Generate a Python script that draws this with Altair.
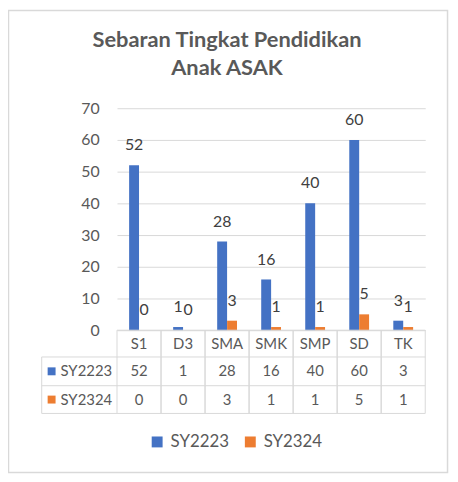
import altair as alt
import pandas as pd

categories = ["S1", "D3", "SMA", "SMK", "SMP", "SD", "TK"]
series_names = ["SY2223", "SY2324"]
sy2223 = [52, 1, 28, 16, 40, 60, 3]
sy2324 = [0, 0, 3, 1, 1, 5, 1]
colors = ["#4472C4", "#ED7D31"]
title_lines = ["Sebaran Tingkat Pendidikan", "Anak ASAK"]
y_ticks = [0, 10, 20, 30, 40, 50, 60, 70]

series_frames = [
    pd.DataFrame({"category": categories, "series": s, "value": vals})
    for s, vals in zip(series_names, [sy2223, sy2324])
]
cat_df = pd.DataFrame({"category": categories})
title_df = pd.DataFrame({"line": title_lines})

FONT = "Lato"
GRAY = "#595959"
LINE = "#D9D9D9"
W, H = 311, 224
STEP = W / len(categories)
TABLE_TOP, ROW1, ROW2, TABLE_BOTTOM = 224, 251, 280, 308
LEFT_COL = -76
BAR_SHIFT = [-5, 5]
TITLE_Y = [-69, -41]
TABLE_FS = 15

x_enc = alt.X("category:N", sort=categories,
              scale=alt.Scale(paddingInner=0, paddingOuter=0), axis=None)
color_enc = alt.Color(
    "series:N",
    scale=alt.Scale(domain=series_names, range=colors),
    legend=alt.Legend(orient="none", legendX=32, legendY=328, direction="horizontal",
                      title=None, symbolType="square", symbolSize=121, symbolStrokeWidth=0,
                      labelFont=FONT, labelFontSize=17, labelColor=GRAY,
                      columnPadding=12, labelOffset=5),
)
y_enc = alt.Y("value:Q", scale=alt.Scale(domain=[0, 70]),
              axis=alt.Axis(values=y_ticks, domain=False, ticks=False, title=None,
                            labelFont=FONT, labelFontSize=16, labelColor=GRAY,
                            labelPadding=18, gridColor=LINE, gridWidth=1,
                            labelOverlap=False, tickCount=8))

layers = []
for i, sdf in enumerate(series_frames):
    layers.append(alt.Chart(sdf).mark_bar(width=alt.RelativeBandSize(0.225),
                                          xOffset=BAR_SHIFT[i]).encode(
        x=x_enc, y=y_enc, color=color_enc))
    layers.append(alt.Chart(sdf).mark_text(font=FONT, fontSize=16, color="#404040", dy=-20,
                                           xOffset=BAR_SHIFT[i], baseline="middle").encode(
        x=x_enc, y=y_enc, text="value:Q"))

# table grid lines: left and right edge of every category cell, then the rest
layers.append(alt.Chart(cat_df).mark_rule(color=LINE, xOffset=-STEP / 2).encode(
    x=x_enc, y=alt.value(TABLE_TOP), y2=alt.value(TABLE_BOTTOM)))
layers.append(alt.Chart(cat_df).mark_rule(color=LINE, xOffset=STEP / 2).encode(
    x=x_enc, y=alt.value(TABLE_TOP), y2=alt.value(TABLE_BOTTOM)))
layers.append(alt.Chart(cat_df.head(1)).mark_rule(color=LINE).encode(
    x=alt.value(LEFT_COL), y=alt.value(ROW1), y2=alt.value(TABLE_BOTTOM)))
for x0, yy in [(0, TABLE_TOP), (LEFT_COL, ROW1), (LEFT_COL, ROW2), (LEFT_COL, TABLE_BOTTOM)]:
    layers.append(alt.Chart(cat_df.head(1)).mark_rule(color=LINE).encode(
        x=alt.value(x0), x2=alt.value(W), y=alt.value(yy)))

# header row
layers.append(alt.Chart(cat_df).mark_text(font=FONT, fontSize=TABLE_FS, color=GRAY).encode(
    x=x_enc, y=alt.value((TABLE_TOP + ROW1) / 2), text="category:N"))

row_mid = [(ROW1 + ROW2) / 2, (ROW2 + TABLE_BOTTOM) / 2]
for i, sdf in enumerate(series_frames):
    layers.append(alt.Chart(sdf).mark_text(font=FONT, fontSize=TABLE_FS, color=GRAY).encode(
        x=x_enc, y=alt.value(row_mid[i]), text="value:Q"))
    lab = sdf.head(1)
    layers.append(alt.Chart(lab).mark_square(size=64, opacity=1, color=colors[i]).encode(
        x=alt.value(-66), y=alt.value(row_mid[i])))
    layers.append(alt.Chart(lab).mark_text(font=FONT, fontSize=TABLE_FS, color=GRAY,
                                           align="left").encode(
        x=alt.value(-57), y=alt.value(row_mid[i]), text="series:N"))

# title, centred on the whole chart frame
for i in range(len(title_lines)):
    layers.append(alt.Chart(title_df.iloc[[i]]).mark_text(
        font=FONT, fontSize=22, fontWeight="bold", color=GRAY, baseline="middle").encode(
        x=alt.value(111), y=alt.value(TITLE_Y[i]), text="line:N"))

# outer border
layers.append(alt.Chart(cat_df.head(1)).mark_rect(fillOpacity=0, stroke=LINE,
                                                  strokeWidth=1.5).encode(
    x=alt.value(-109.5), x2=alt.value(333.5), y=alt.value(-98.5), y2=alt.value(367.5)))

chart = alt.layer(*layers).properties(
    width=W, height=H,
    autosize=alt.AutoSizeParams(type="none"),
    padding={"left": 110, "top": 99, "right": 25, "bottom": 145},
    background="white",
).configure_view(stroke=None)

chart.save("out.html", embed_options={"renderer": "svg", "actions": False})
